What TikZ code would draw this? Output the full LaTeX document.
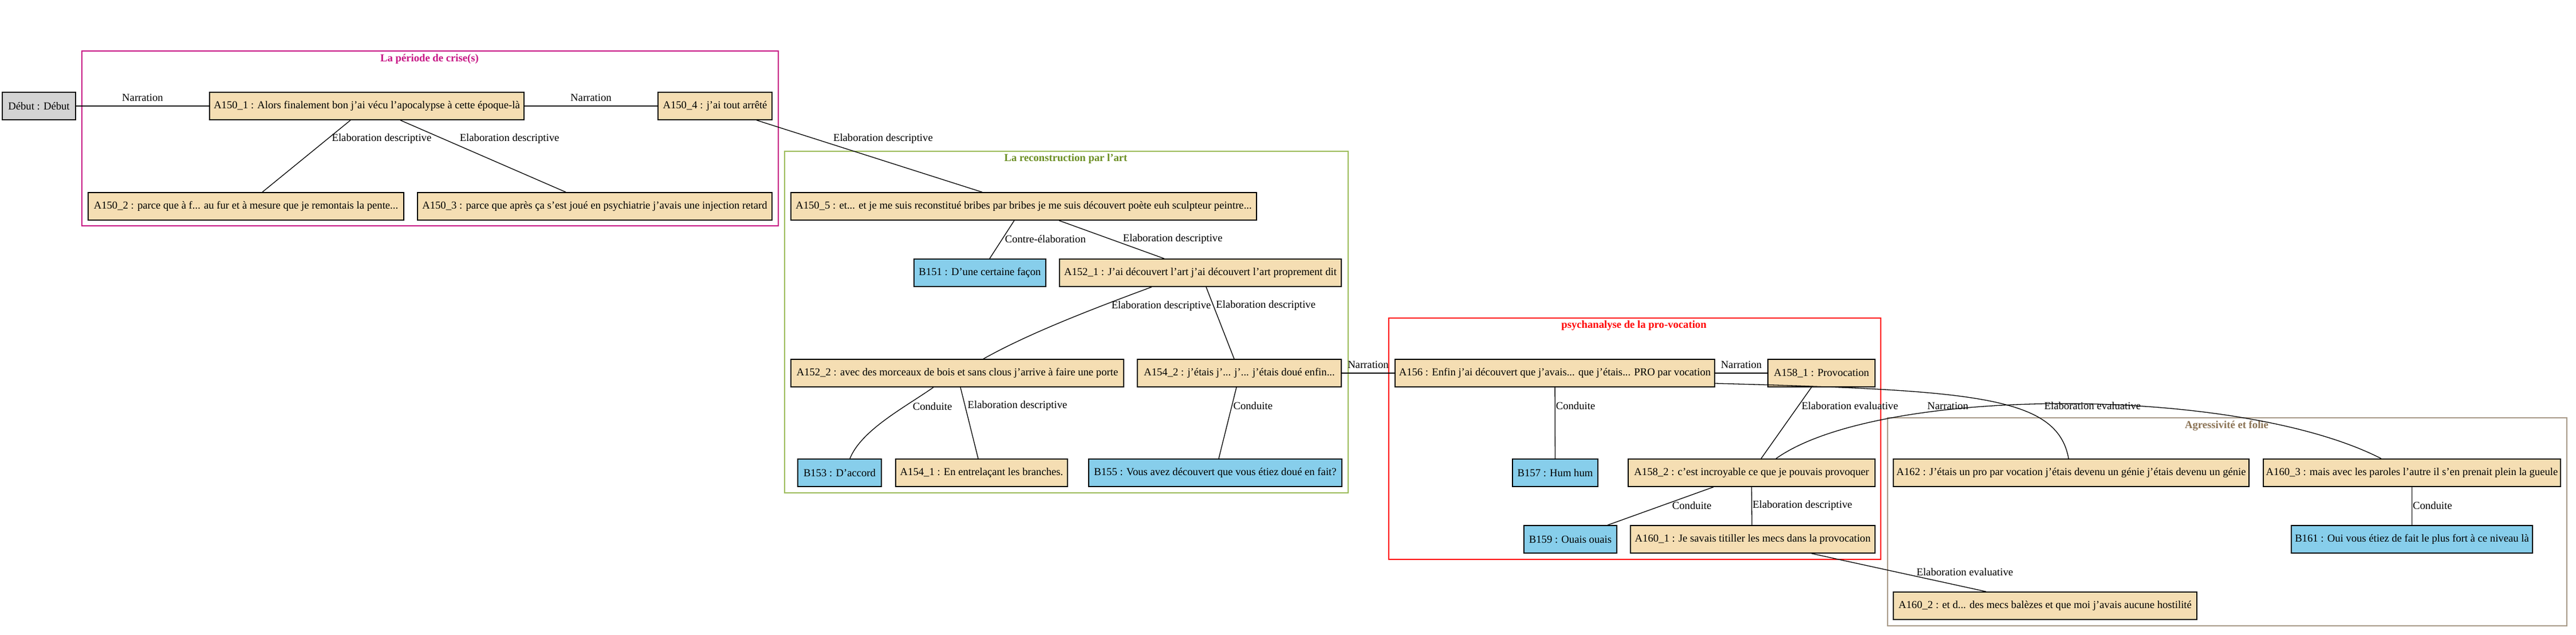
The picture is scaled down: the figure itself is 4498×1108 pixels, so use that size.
\documentclass[tikz,border=0pt]{standalone}
\usepackage{fontspec}
\setmainfont{Liberation Serif}
\usepackage{xcolor}
\usetikzlibrary{
    calc,
    positioning
}

\definecolor{wheatfill}{HTML}{F5DEB3}
\definecolor{skyfill}{HTML}{87CEEB}
\definecolor{debutfill}{HTML}{D3D3D3}
\definecolor{crisecol}{HTML}{C71585}
\definecolor{artframe}{HTML}{9BBB59}
\definecolor{arttitle}{HTML}{6B8E23}
\definecolor{psychcol}{HTML}{FF0000}
\definecolor{agresscol}{HTML}{8B7355}
\definecolor{agressframe}{HTML}{A89A88}

\tikzset{
    txt/.style={font=\fontsize{18.67}{22}\selectfont},
    box/.style={txt, draw=black, line width=1.5pt, fill=wheatfill, minimum height=48pt, inner sep=0pt},
    bbox/.style={box, fill=skyfill},
    dbox/.style={box, fill=debutfill},
    lbl/.style={txt, inner sep=0pt},
    ctitle/.style={font=\fontsize{18.67}{22}\selectfont\bfseries, inner sep=0pt},
    cluster/.style={line width=1.6pt},
    link/.style={line width=1.3pt}
}

\begin{document}
\begin{tikzpicture}[x=1pt, y=-1pt]
                        \useasboundingbox (0, 0) rectangle (4498, 1108);

                        % groupes
                        \draw[cluster, crisecol] (143, 89) rectangle (1359, 394);
                        \node[ctitle, text=crisecol] (t-crise) at (750, 103) {La période de crise(s)};
                        \draw[cluster, artframe] (1370, 264) rectangle (2354, 860);
                        \node[ctitle, text=arttitle] (t-art) at (1861, 277) {La reconstruction par l'art};
                        \draw[cluster, psychcol] (2425, 555) rectangle (3284, 976);
                        \node[ctitle, text=psychcol] (t-psych) at (2853, 568) {psychanalyse de la pro-vocation};
                        \draw[cluster, agressframe] (3296, 729) rectangle (4482, 1092);
                        \node[ctitle, text=agresscol] (t-agress) at (3888, 743) {Agressivité et folie};

                        % segments
                        \node[dbox, minimum width=128pt] (debut) at (68, 185) {Début : Début};
                        \node[box, minimum width=549pt] (a150-1) at (640.5, 185) {A150\_1 : Alors finalement bon j’ai vécu l’apocalypse à cette époque-là};
                        \node[box, minimum width=199pt] (a150-4) at (1248.5, 185) {A150\_4 : j’ai tout arrêté};
                        \node[box, minimum width=551pt] (a150-2) at (429.5, 360) {A150\_2 : parce que à f... au fur et à mesure que je remontais la pente...};
                        \node[box, minimum width=619pt] (a150-3) at (1038.5, 360) {A150\_3 : parce que après ça s’est joué en psychiatrie j’avais une injection retard};
                        \node[box, minimum width=813pt] (a150-5) at (1787.5, 360) {A150\_5 : et... et je me suis reconstitué bribes par bribes je me suis découvert poète euh sculpteur peintre...};
                        \node[bbox, minimum width=230pt] (b151) at (1711, 476) {B151 : D’une certaine façon};
                        \node[box, minimum width=492pt] (a152-1) at (2096, 476) {A152\_1 : J’ai découvert l’art j’ai découvert l’art proprement dit};
                        \node[box, minimum width=581pt] (a152-2) at (1671.5, 651) {A152\_2 : avec des morceaux de bois et sans clous j’arrive à faire une porte};
                        \node[box, minimum width=356pt] (a154-2) at (2164, 651) {A154\_2 : j’étais j’... j’... j’étais doué enfin...};
                        \node[bbox, minimum width=146pt] (b153) at (1466, 825) {B153 : D’accord};
                        \node[box, minimum width=300pt] (a154-1) at (1714, 825) {A154\_1 : En entrelaçant les branches.};
                        \node[bbox, minimum width=442pt] (b155) at (2122, 825) {B155 : Vous avez découvert que vous étiez doué en fait?};
                        \node[box, minimum width=558pt] (a156) at (2715, 651) {A156 : Enfin j’ai découvert que j’avais... que j’étais... PRO par vocation};
                        \node[box, minimum width=187pt] (a158-1) at (3180.5, 651) {A158\_1 : Provocation};
                        \node[bbox, minimum width=149pt] (b157) at (2715.5, 825) {B157 : Hum hum};
                        \node[box, minimum width=431pt] (a158-2) at (3058.5, 825) {A158\_2 : c’est incroyable ce que je pouvais provoquer};
                        \node[bbox, minimum width=162pt] (b159) at (2742, 941) {B159 : Ouais ouais};
                        \node[box, minimum width=427pt] (a160-1) at (3060.5, 941) {A160\_1 : Je savais titiller les mecs dans la provocation};
                        \node[box, minimum width=621pt] (a162) at (3616.5, 825) {A162 : J’étais un pro par vocation j’étais devenu un génie j’étais devenu un génie};
                        \node[box, minimum width=519pt] (a160-3) at (4211.5, 825) {A160\_3 : mais avec les paroles l’autre il s’en prenait plein la gueule};
                        \node[bbox, minimum width=421pt] (b161) at (4211.5, 941) {B161 : Oui vous étiez de fait le plus fort à ce niveau là};
                        \node[box, minimum width=530pt] (a160-2) at (3571, 1057) {A160\_2 : et d... des mecs balèzes et que moi j’avais aucune hostilité};

                        % relations
                        \draw[link] (debut) -- node[lbl, above=8pt]{Narration} (a150-1);
                        \draw[link] (a150-1) -- node[lbl, above=8pt]{Narration} (a150-4);
                        \draw[link] ([xshift=-28.5pt]a150-1.south) -- node[lbl, pos=0.26, anchor=west, xshift=7pt]{Elaboration descriptive} ([xshift=28.5pt]a150-2.north);
                        \draw[link] ([xshift=58.5pt]a150-1.south) -- node[lbl, pos=0.26, anchor=west, xshift=28pt]{Elaboration descriptive} ([xshift=-50.5pt]a150-3.north);
                        \draw[link] ([xshift=72.5pt]a150-4.south) -- node[lbl, pos=0.26, anchor=west, xshift=31pt]{Elaboration descriptive} ([xshift=-72.5pt]a150-5.north);
                        \draw[link] ([xshift=-16.5pt]a150-5.south) -- node[lbl, pos=0.485, anchor=west, xshift=4pt]{Contre-élaboration} ([xshift=17pt]b151.north);
                        \draw[link] ([xshift=61.5pt]a150-5.south) -- node[lbl, pos=0.485, anchor=west, xshift=22pt]{Elaboration descriptive} ([xshift=-63pt]a152-1.north);
                        \draw[link] ([xshift=-85pt]a152-1.south) .. controls +(-100, 37) and +(80, -45) .. node[lbl, pos=0.25, anchor=west, xshift=6pt, yshift=-4pt]{Elaboration descriptive} ([xshift=45.5pt]a152-2.north);
                        \draw[link] ([xshift=10pt]a152-1.south) -- node[lbl, pos=0.26, anchor=west, xshift=4pt]{Elaboration descriptive} ([xshift=-9pt]a154-2.north);
                        \draw[link] ([xshift=-41.5pt]a152-2.south) .. controls +(-50, 35) and +(20, -50) .. node[lbl, pos=0.3, anchor=west, xshift=13pt]{Conduite} ([xshift=18pt]b153.north);
                        \draw[link] ([xshift=5.5pt]a152-2.south) -- node[lbl, pos=0.26, anchor=west, xshift=4pt]{Elaboration descriptive} ([xshift=-6pt]a154-1.north);
                        \draw[link] ([xshift=-5pt]a154-2.south) -- node[lbl, pos=0.26, anchor=west, xshift=2pt]{Conduite} ([xshift=6pt]b155.north);
                        \draw[link] (a154-2) -- node[lbl, above=8pt]{Narration} (a156);
                        \draw[link] (a156) -- node[lbl, above=8pt]{Narration} (a158-1);
                        \draw[link] (a156) -- node[lbl, pos=0.26, anchor=west, xshift=1pt]{Conduite} (b157);
                        \draw[link] ([xshift=-17.5pt]a158-1.south) -- node[lbl, pos=0.26, anchor=west, xshift=5pt]{Elaboration evaluative} ([xshift=16.5pt]a158-2.north);
                        \draw[link] ([xshift=-66.5pt]a158-2.south) -- node[lbl, pos=0.485, anchor=west, xshift=17pt]{Conduite} ([xshift=65pt]b159.north);
                        \draw[link] (a158-2.south) -- node[lbl, pos=0.485, anchor=west, xshift=1pt]{Elaboration descriptive} ([xshift=-1.5pt]a160-1.north);
                        \draw[link] ([yshift=-18pt]a156.east) .. controls +(451, 12) and +(-20, -110) .. node[lbl, pos=0.4, yshift=-20pt]{Narration} ([xshift=-4.5pt]a162.north);
                        \draw[link] ([xshift=42.5pt]a158-2.north) .. controls +(180, -128) and +(-250, -128) .. node[lbl, pos=0.54, yshift=-3pt]{Elaboration evaluative} ([xshift=-53.5pt]a160-3.north);
                        \draw[link] ([xshift=102.5pt]a160-1.south) -- node[lbl, pos=0.485, anchor=west, xshift=35pt]{Elaboration evaluative} ([xshift=-103pt]a160-2.north);
                        \draw[link] (a160-3) -- node[lbl, pos=0.485, anchor=west, xshift=1pt]{Conduite} (b161);
\end{tikzpicture}
\end{document}
